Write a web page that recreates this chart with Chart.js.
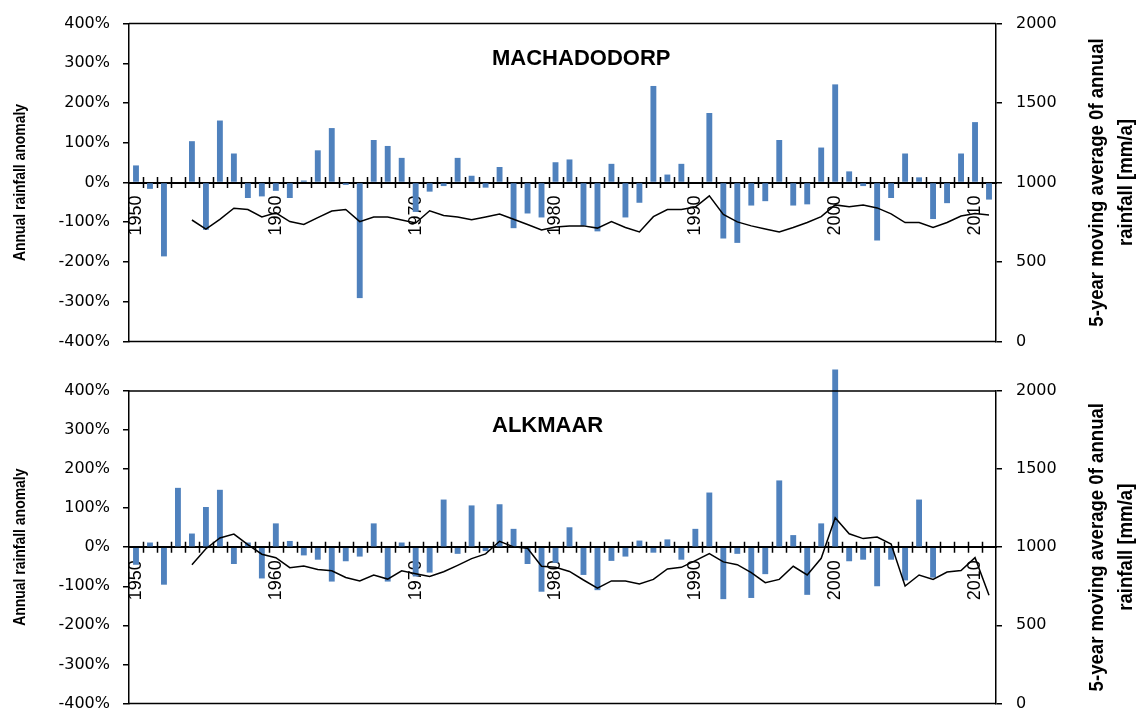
<!DOCTYPE html>
<html>
<head>
<meta charset="utf-8">
<script src="https://cdn.jsdelivr.net/npm/chart.js@4.4.1/dist/chart.umd.min.js"></script>
<style>
  html, body { margin: 0; padding: 0; background: #fff; }
  #wrap { position: relative; width: 1142px; height: 727px; overflow: hidden; }
  .panel { position: absolute; left: 0; width: 1142px; }
  canvas { display: block; }
</style>
</head>
<body>
<div id="wrap">
  <div class="panel" style="top:0;height:365px"><canvas id="topChart" width="1142" height="365"></canvas></div>
  <div class="panel" style="top:365px;height:362px"><canvas id="bottomChart" width="1142" height="362"></canvas></div>
</div>
<script>
// categories
const years = ['1950','1951','1952','1953','1954','1955','1956','1957','1958','1959',
  '1960','1961','1962','1963','1964','1965','1966','1967','1968','1969',
  '1970','1971','1972','1973','1974','1975','1976','1977','1978','1979',
  '1980','1981','1982','1983','1984','1985','1986','1987','1988','1989',
  '1990','1991','1992','1993','1994','1995','1996','1997','1998','1999',
  '2000','2001','2002','2003','2004','2005','2006','2007','2008','2009',
  '2010','2011'];

// Machadodorp: annual rainfall anomaly (%) and 5-year moving average (mm/a)
const machAnomaly = [43, -16, -186, null, 104, -119, 156, 73, -39, -35,
  -21, -39, 5, 81, 137, -6, -291, 107, 92, 62,
  -74, -23, -9, 62, 17, -13, 39, -115, -78, -88,
  51, 58, -109, -123, 47, -88, -51, 243, 20, 47,
  null, 175, -141, -152, -58, -47, 107, -58, -55, 88,
  247, 28, -9, -146, -39, 73, 13, -92, -52, 73,
  152, -43];
const machAvg = [null, null, null, null, 764, 707, 768, 838, 830, 783,
  809, 754, 736, 779, 820, 830, 754, 783, 783, 764,
  745, 822, 793, 783, 765, 783, 802, 769, 736, 701,
  720, 727, 727, 713, 754, 717, 689, 785, 830, 830,
  846, 916, 799, 752, 727, 707, 689, 717, 748, 785,
  859, 848, 859, 840, 803, 748, 748, 717, 748, 789,
  805, 795];

// Alkmaar
const alkAnomaly = [-45, 12, -96, 152, 35, 103, 147, -43, 12, -80,
  61, 16, -21, -32, -88, -36, -24, 61, -88, 12,
  -75, -65, 122, -17, 107, -10, 110, 47, -43, -114,
  -40, 51, -71, -110, -35, -24, 17, -14, 20, -32,
  47, 140, -133, -17, -130, -69, 171, 31, -122, 61,
  455, -36, -32, -100, -32, -85, 122, -78, null, null,
  null, null];
const alkAvg = [null, null, null, null, 888, 990, 1059, 1084, 1016, 955,
  933, 869, 880, 857, 849, 806, 784, 822, 796, 849,
  830, 812, 843, 884, 927, 957, 1038, 1002, 993, 878,
  871, 845, 790, 738, 784, 784, 765, 794, 861, 871,
  914, 959, 906, 888, 837, 773, 794, 878, 822, 929,
  1188, 1086, 1055, 1065, 1020, 751, 822, 794, 841, 851,
  933, 692];

// tick labels
const leftTicks = [-400, -300, -200, -100, 0, 100, 200, 300, 400];
const rightTicks = [0, 500, 1000, 1500, 2000];

const leftTitle = 'Annual rainfall anomaly';
const rightTitle = ['5-year moving average 0f annual', 'rainfall [mm/a]'];

// frame, crossing ticks on the zero line, and the titles
const decor = {
  id: 'decor',
  afterDraw(chart, args, opts) {
    const { ctx, chartArea: a, scales } = chart;
    const midY = (a.top + a.bottom) / 2;
    ctx.save();
    ctx.strokeStyle = '#000';
    ctx.lineWidth = 1.5;
    ctx.beginPath();
    ctx.moveTo(a.left, a.top); ctx.lineTo(a.right, a.top);
    ctx.moveTo(a.left, a.bottom); ctx.lineTo(a.right, a.bottom);
    ctx.stroke();

    const xs = scales.x;
    const y0 = scales.y.getPixelForValue(0);
    const half = (xs.getPixelForValue(1) - xs.getPixelForValue(0)) / 2;
    ctx.beginPath();
    for (let i = 1; i < years.length; i++) {
      const px = Math.round(xs.getPixelForValue(i) - half) + 0.5;
      ctx.moveTo(px, y0 - 5.5);
      ctx.lineTo(px, y0 + 5.5);
    }
    ctx.stroke();

    ctx.fillStyle = '#000';
    ctx.font = 'bold 22px "Liberation Sans", Arial, sans-serif';
    ctx.textAlign = 'left';
    ctx.textBaseline = 'alphabetic';
    ctx.fillText(opts.title, a.left + 363, a.top + 41);

    // axis titles: condensed bold, reading bottom to top
    ctx.textAlign = 'center';
    ctx.textBaseline = 'middle';
    ctx.save();
    ctx.font = 'bold 17px "Liberation Sans", Arial, sans-serif';
    ctx.translate(a.left - 109, midY);
    ctx.rotate(-Math.PI / 2);
    ctx.scale(0.82, 1);
    ctx.fillText(leftTitle, 0, 0);
    ctx.restore();

    ctx.save();
    ctx.font = 'bold 20px "Liberation Sans", Arial, sans-serif';
    ctx.translate(a.right + 116, midY);
    ctx.rotate(-Math.PI / 2);
    ctx.scale(0.93, 1);
    ctx.fillText(rightTitle[0], 0, -14.5);
    ctx.fillText(rightTitle[1], 0, 14.5);
    ctx.restore();
    ctx.restore();
  }
};

function makeChart(id, title, anomaly, avg, padTop, padBottom) {
  return new Chart(document.getElementById(id), {
    type: 'bar',
    data: {
      labels: years,
      datasets: [
        {
          type: 'line',
          data: avg,
          yAxisID: 'y1',
          borderColor: '#000',
          borderWidth: 1.5,
          pointRadius: 0,
          tension: 0,
          order: 0
        },
        {
          type: 'bar',
          data: anomaly,
          yAxisID: 'y',
          backgroundColor: '#4F81BD',
          borderWidth: 0,
          barPercentage: 0.42,
          categoryPercentage: 1,
          clip: false,
          order: 1
        }
      ]
    },
    options: {
      responsive: false,
      animation: false,
      devicePixelRatio: 1,
      layout: { padding: { top: padTop, bottom: padBottom, left: 0, right: 0 } },
      plugins: {
        legend: { display: false },
        tooltip: { enabled: false },
        decor: { title: title }
      },
      scales: {
        x: {
          position: { y: 0 },
          z: 1,
          grid: { display: false, drawTicks: false },
          border: { display: true, color: '#000', width: 2 },
          ticks: {
            autoSkip: false,
            minRotation: 90,
            maxRotation: 90,
            padding: 13,
            color: '#000',
            font: { family: '"Liberation Sans", Arial, sans-serif', size: 18 },
            callback: function (v) {
              const l = this.getLabelForValue(v);
              return Number(l) % 10 === 0 ? l : '';
            }
          }
        },
        y: {
          position: 'left',
          min: leftTicks[0],
          max: leftTicks[leftTicks.length - 1],
          afterBuildTicks: s => { s.ticks = leftTicks.map(v => ({ value: v })); },
          ticks: {
            callback: v => v + '%',
            color: '#000',
            padding: 13,
            font: { family: '"DejaVu Sans", sans-serif', size: 16 }
          },
          grid: { drawOnChartArea: false, tickLength: 6, color: '#000', lineWidth: 1.5 },
          border: { display: true, color: '#000', width: 1.5 },
          afterFit: s => { s.width = 129; }
        },
        y1: {
          position: 'right',
          min: rightTicks[0],
          max: rightTicks[rightTicks.length - 1],
          afterBuildTicks: s => { s.ticks = rightTicks.map(v => ({ value: v })); },
          ticks: {
            callback: v => String(v),
            color: '#000',
            padding: 14,
            font: { family: '"DejaVu Sans", sans-serif', size: 16 }
          },
          grid: { drawOnChartArea: false, tickLength: 6, color: '#000', lineWidth: 1.5 },
          border: { display: true, color: '#000', width: 1.5 },
          afterFit: s => { s.width = 146; }
        }
      }
    },
    plugins: [decor]
  });
}

makeChart('topChart', 'MACHADODORP', machAnomaly, machAvg, 16, 23);
makeChart('bottomChart', 'ALKMAAR', alkAnomaly, alkAvg, 26, 11);
</script>
</body>
</html>
